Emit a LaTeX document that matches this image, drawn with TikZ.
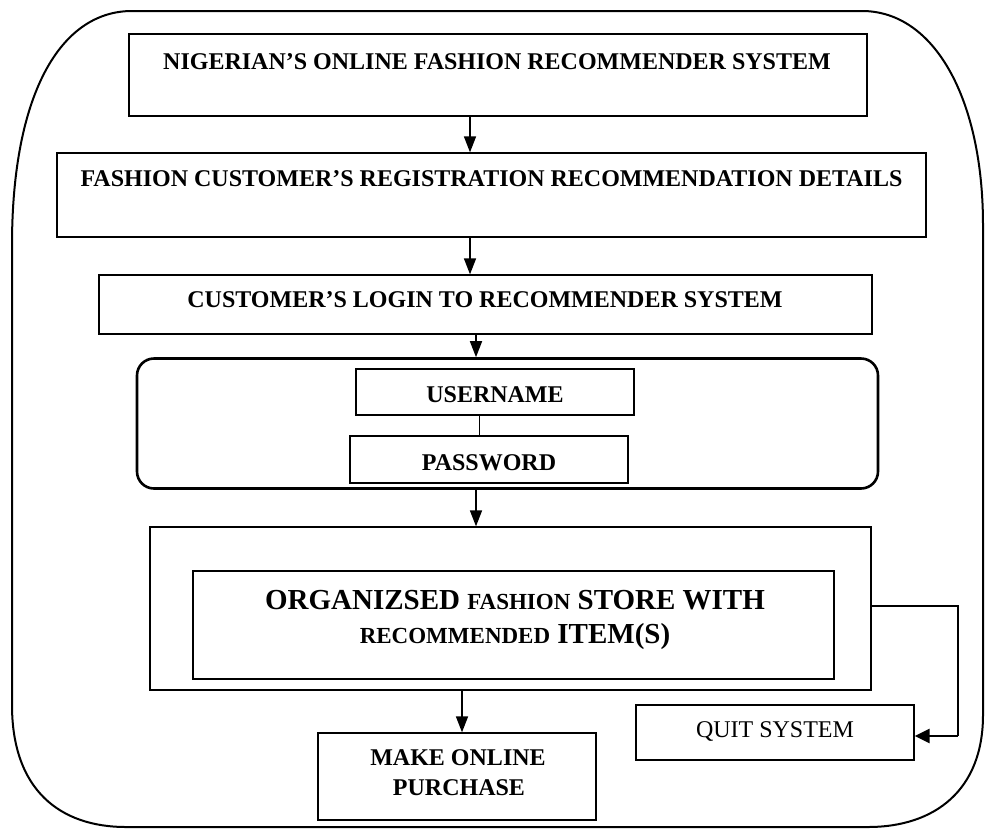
\documentclass[tikz,border=0pt]{standalone}
\usepackage{fontspec}
\setmainfont{Liberation Serif}
\usetikzlibrary{arrows.meta}
\tikzset{
  bx/.style={draw, line width=1.3pt, inner sep=0pt},
  txt/.style={anchor=base, inner sep=0pt, font=\fontsize{24}{28}\selectfont\bfseries},
  arr/.style={line width=1.6pt, -{Triangle[length=16pt,width=12pt]}},
  conn/.style={line width=1.3pt},
}
\newcommand{\smc}[1]{{\fontsize{23}{28}\selectfont #1}}
\begin{document}
\begin{tikzpicture}[x=1pt,y=-1pt]
\useasboundingbox (0,0) rectangle (985,828);
% outer frame
\draw[line width=2pt] (12,245) .. controls (12,95) and (60,11) .. (132,11) -- (862,11)
  .. controls (935,11) and (983,100) .. (983,225) -- (983,715)
  .. controls (983,790) and (935,827) .. (868,827) -- (126,827)
  .. controls (60,827) and (12,790) .. (12,705) -- cycle;
% boxes
\node[bx, minimum width=738, minimum height=82] (b1) at (498,75) {};
\node[txt] (t1) at (497,69) {NIGERIAN'S ONLINE FASHION RECOMMENDER SYSTEM};
\node[bx, minimum width=869, minimum height=84] (b2) at (491.5,195) {};
\node[txt] (t2) at (491.5,186) {FASHION CUSTOMER'S REGISTRATION RECOMMENDATION DETAILS};
\node[bx, minimum width=773, minimum height=59] (b3) at (485.5,304.5) {};
\node[txt] (t3) at (485,307) {CUSTOMER'S LOGIN TO RECOMMENDER SYSTEM};
\node[draw, line width=2.6pt, rounded corners=17pt, minimum width=741, minimum height=130, inner sep=0pt] (login) at (507.5,423.5) {};
\node[bx, minimum width=278, minimum height=46] (user) at (495,392) {};
\node[txt] (tu) at (495,402) {USERNAME};
\node[bx, minimum width=278, minimum height=47] (pass) at (489,459.5) {};
\node[txt] (tp) at (489,470) {PASSWORD};
\node[bx, minimum width=721, minimum height=163] (store) at (510.5,608.5) {};
\node[bx, minimum width=641, minimum height=108] (inner) at (513.5,625) {};
\node[txt, font=\fontsize{29}{32}\selectfont\bfseries] (ts1) at (515,609) {ORGANIZSED \smc{FASHION} STORE WITH};
\node[txt, font=\fontsize{29}{32}\selectfont\bfseries] (ts2) at (515,643) {\smc{RECOMMENDED} ITEM(S)};
\node[bx, minimum width=278, minimum height=87] (buy) at (457,776.5) {};
\node[txt] (tb1) at (458,765) {MAKE ONLINE};
\node[txt] (tb2) at (459,795) {PURCHASE};
\node[bx, minimum width=278, minimum height=55] (quit) at (775,732.5) {};
\node[txt, font=\fontsize{24}{28}\selectfont] (tq) at (775,737) {QUIT SYSTEM};
% connectors
\draw[arr] (470,0 |- b1.south) -- (470,0 |- b2.north);
\draw[arr] (470,0 |- b2.south) -- (470,0 |- b3.north);
\draw[arr] (476,0 |- b3.south) -- (476,0 |- login.north);
\draw[conn, line width=1pt] (479,0 |- user.south) -- (479,0 |- pass.north);
\draw[arr] (476,0 |- login.south) -- (476,0 |- store.north);
\draw[arr] (462,0 |- store.south) -- (462,0 |- buy.north);
\coordinate (qc) at (958,736);
\draw[conn] (store.east |- 0,606) -| (qc);
\draw[line width=2.8pt, -{Triangle[length=15pt,width=14pt]}] (qc) -- (quit.east |- qc);
\end{tikzpicture}
\end{document}
